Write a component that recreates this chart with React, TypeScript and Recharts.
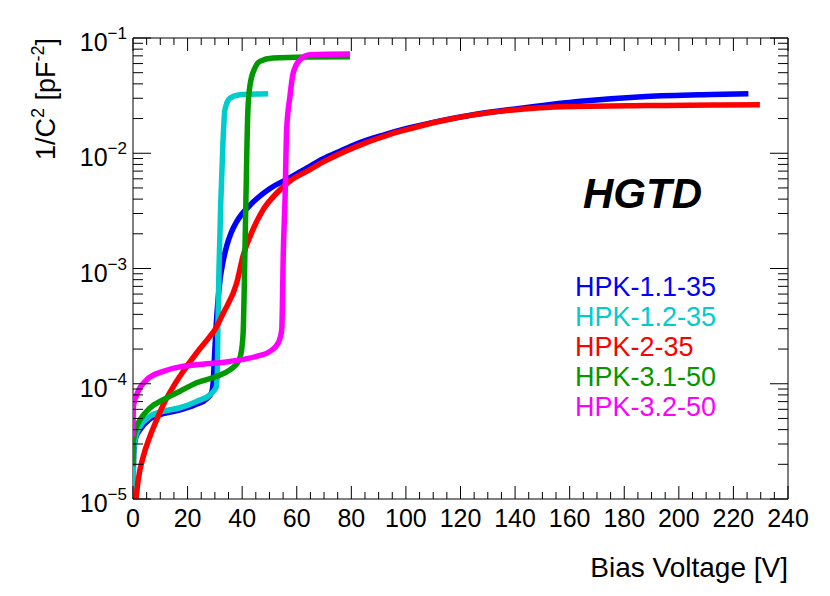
import React from "react";
import { LineChart, Line, XAxis, YAxis, ReferenceArea } from "recharts";

// HPK-1.1-35
const hpk11V = [0, 0.3, 1, 2.6, 6, 11, 17, 23, 27, 28.8, 29.4, 29.8, 30.4, 31.2, 31.9, 33, 34.3, 36, 38, 42.9, 50.2, 57.5, 63.6, 69.7, 76, 82, 91.7, 100.3, 112.5, 124.7, 143, 164, 188, 212, 225.5];
const hpk11C = [1.0e-5, 2.6e-5, 3.4e-5, 4.0e-5, 4.9e-5, 5.5e-5, 5.9e-5, 6.6e-5, 7.4e-5, 8.4e-5, 1.05e-4, 1.6e-4, 3.0e-4, 5.5e-4, 8.0e-4, 1.15e-3, 1.56e-3, 2.05e-3, 2.55e-3, 3.55e-3, 4.95e-3, 6.14e-3, 7.41e-3, 8.95e-3, 0.01045, 0.01208, 0.01439, 0.0164, 0.0191, 0.0216, 0.0247, 0.0282, 0.0311, 0.0324, 0.0329];

// HPK-1.2-35
const hpk12V = [0, 0.2, 1, 2.6, 6.2, 11, 17.2, 23.3, 28.2, 30.4, 30.9, 31.1, 31.5, 32.2, 33, 33.7, 35.5, 39.2, 49.5];
const hpk12C = [1.0e-5, 2.5e-5, 3.5e-5, 4.27e-5, 5.21e-5, 5.76e-5, 6.19e-5, 7.03e-5, 8.04e-5, 9.24e-5, 1.25e-4, 2.94e-4, 9.8e-4, 3.95e-3, 0.0131, 0.0239, 0.03, 0.0322, 0.0329];

// HPK-2-35
const hpk2V = [1.1, 1.94, 3.77, 6.2, 8.7, 11.1, 14.8, 18.4, 23.3, 28.2, 30, 33.1, 38, 40.4, 42.9, 47.7, 52.7, 57.5, 63.6, 69.7, 82, 94.2, 100.3, 112.5, 124.7, 136.9, 149.1, 161.3, 188.2, 212.6, 229.7];
const hpk2C = [1.0e-5, 1.48e-5, 2.34e-5, 3.49e-5, 4.88e-5, 6.58e-5, 9.48e-5, 1.28e-4, 1.85e-4, 2.58e-4, 2.94e-4, 4.11e-4, 7.5e-4, 1.3e-3, 1.9e-3, 3.24e-3, 4.52e-3, 5.75e-3, 6.95e-3, 8.41e-3, 0.01148, 0.01459, 0.01603, 0.01897, 0.02153, 0.02344, 0.02477, 0.0254, 0.0259, 0.0262, 0.0263];

// HPK-3.1-50
const hpk31V = [0, 0.15, 1.35, 2.6, 6.2, 11.1, 17.2, 23.3, 30.7, 35.5, 38.6, 39.8, 40.4, 40.9, 41.8, 42.1, 42.9, 44.7, 46.5, 51.3, 64.9, 79.5];
const hpk31C = [1.92e-5, 3.2e-5, 4.27e-5, 4.88e-5, 6.16e-5, 7.28e-5, 8.6e-5, 1.02e-4, 1.16e-4, 1.32e-4, 1.56e-4, 1.97e-4, 2.94e-4, 1.0e-3, 0.0131, 0.0238, 0.0393, 0.0552, 0.0627, 0.067, 0.0684, 0.0688];

// HPK-3.2-50
const hpk32V = [0, 0.1, 1.9, 5, 11.1, 17.2, 23.3, 35.5, 45.3, 50.2, 53.2, 54.5, 55.1, 55.7, 56.3, 57.5, 58.7, 61.2, 64.9, 79.5];
const hpk32C = [3.49e-5, 6.35e-5, 8.6e-5, 1.08e-4, 1.28e-4, 1.4e-4, 1.46e-4, 1.56e-4, 1.73e-4, 1.91e-4, 2.26e-4, 2.94e-4, 1.46e-3, 3.94e-3, 0.01595, 0.0311, 0.0497, 0.0649, 0.0717, 0.0726];

const xMajorTicks = [0, 20, 40, 60, 80, 100, 120, 140, 160, 180, 200, 220, 240];
const yMajorTicks = [1e-5, 1e-4, 1e-3, 1e-2, 1e-1];

const toPoints = (v: number[], c: number[]) => v.map((x, i) => ({ v: x, c: c[i] }));

const SERIES = [
  { name: "HPK-1.1-35", color: "#0000ff", data: toPoints(hpk11V, hpk11C) },
  { name: "HPK-1.2-35", color: "#00cccc", data: toPoints(hpk12V, hpk12C) },
  { name: "HPK-2-35", color: "#ff0000", data: toPoints(hpk2V, hpk2C) },
  { name: "HPK-3.1-50", color: "#009900", data: toPoints(hpk31V, hpk31C) },
  { name: "HPK-3.2-50", color: "#ff00ff", data: toPoints(hpk32V, hpk32C) },
];

const W = 830;
const H = 590;
const PLOT = { left: 133, top: 38, right: 788, bottom: 499 };
const FONT = "'Liberation Sans', Arial, Helvetica, sans-serif";

const xTicks = xMajorTicks.flatMap((t, i) =>
  i === xMajorTicks.length - 1 ? [t] : [t, t + 5, t + 10, t + 15]
);
const yTicks = yMajorTicks.flatMap((t, i) =>
  i === yMajorTicks.length - 1 ? [t] : [1, 2, 3, 4, 5, 6, 7, 8, 9].map((k) => k * t)
);

function XTick(props: any) {
  const x = props.x;
  const v = props.payload.value;
  const major = xMajorTicks.includes(v);
  const len = major ? 13 : 7;
  return (
    <g>
      <line x1={x} x2={x} y1={PLOT.bottom} y2={PLOT.bottom - len} stroke="#000" />
      <line x1={x} x2={x} y1={PLOT.top} y2={PLOT.top + len} stroke="#000" />
      {major && (
        <text x={x} y={PLOT.bottom + 28} textAnchor="middle" fontSize={25} fontFamily={FONT} fill="#000">
          {v}
        </text>
      )}
    </g>
  );
}

function YTick(props: any) {
  const y = props.y;
  const v = props.payload.value;
  const major = yMajorTicks.includes(v);
  const len = major ? 18 : 10;
  const exp = Math.round(Math.log10(v));
  return (
    <g>
      <line x1={PLOT.left} x2={PLOT.left + len} y1={y} y2={y} stroke="#000" />
      <line x1={PLOT.right} x2={PLOT.right - len} y1={y} y2={y} stroke="#000" />
      {major && (
        <text x={127} y={y + 13} textAnchor="end" fontSize={25} fontFamily={FONT} fill="#000">
          10
          <tspan dy={-12} fontSize={17}>{"\u2212" + Math.abs(exp)}</tspan>
        </text>
      )}
    </g>
  );
}

export default function App() {
  return (
    <div style={{ width: W, height: H }}>
      <style>{"body{margin:0;overflow:hidden;background:#fff}"}</style>
      <LineChart
        width={W}
        height={H}
        margin={{ top: PLOT.top, right: W - PLOT.right, left: PLOT.left - 60, bottom: H - PLOT.bottom - 30 }}
      >
        <XAxis
          type="number"
          dataKey="v"
          domain={[0, 240]}
          ticks={xTicks}
          interval={0}
          allowDataOverflow
          axisLine={false}
          tickLine={false}
          tick={<XTick />}
          height={30}
        />
        <YAxis
          type="number"
          dataKey="c"
          scale="log"
          domain={[1e-5, 1e-1]}
          ticks={yTicks}
          interval={0}
          allowDataOverflow
          axisLine={false}
          tickLine={false}
          tick={<YTick />}
          width={60}
        />
        {SERIES.map((s) => (
          <Line
            key={s.name}
            data={s.data}
            dataKey="c"
            name={s.name}
            type="monotone"
            stroke={s.color}
            strokeWidth={5.5}
            dot={false}
            isAnimationActive={false}
          />
        ))}
        <ReferenceArea x1={0} x2={240} y1={1e-5} y2={1e-1} fill="none" stroke="#000" strokeWidth={1} />
        <text x={583} y={208} fontSize={42} fontWeight="bold" fontStyle="italic" fontFamily={FONT} fill="#000">
          HGTD
        </text>
        {SERIES.map((s, i) => (
          <text key={s.name} x={575} y={296 + i * 30} fontSize={27} fontFamily={FONT} fill={s.color}>
            {s.name}
          </text>
        ))}
        <text x={PLOT.right} y={577} textAnchor="end" fontSize={28} fontFamily={FONT} fill="#000">
          Bias Voltage [V]
        </text>
        <text transform={`translate(55,${PLOT.top}) rotate(-90)`} textAnchor="end" fontSize={27} fontFamily={FONT} fill="#000">
          1/C
          <tspan dy={-11} fontSize={18}>2</tspan>
          <tspan dy={11}> [pF</tspan>
          <tspan dy={-11} fontSize={18}>-2</tspan>
          <tspan dy={11}>]</tspan>
        </text>
      </LineChart>
    </div>
  );
}
